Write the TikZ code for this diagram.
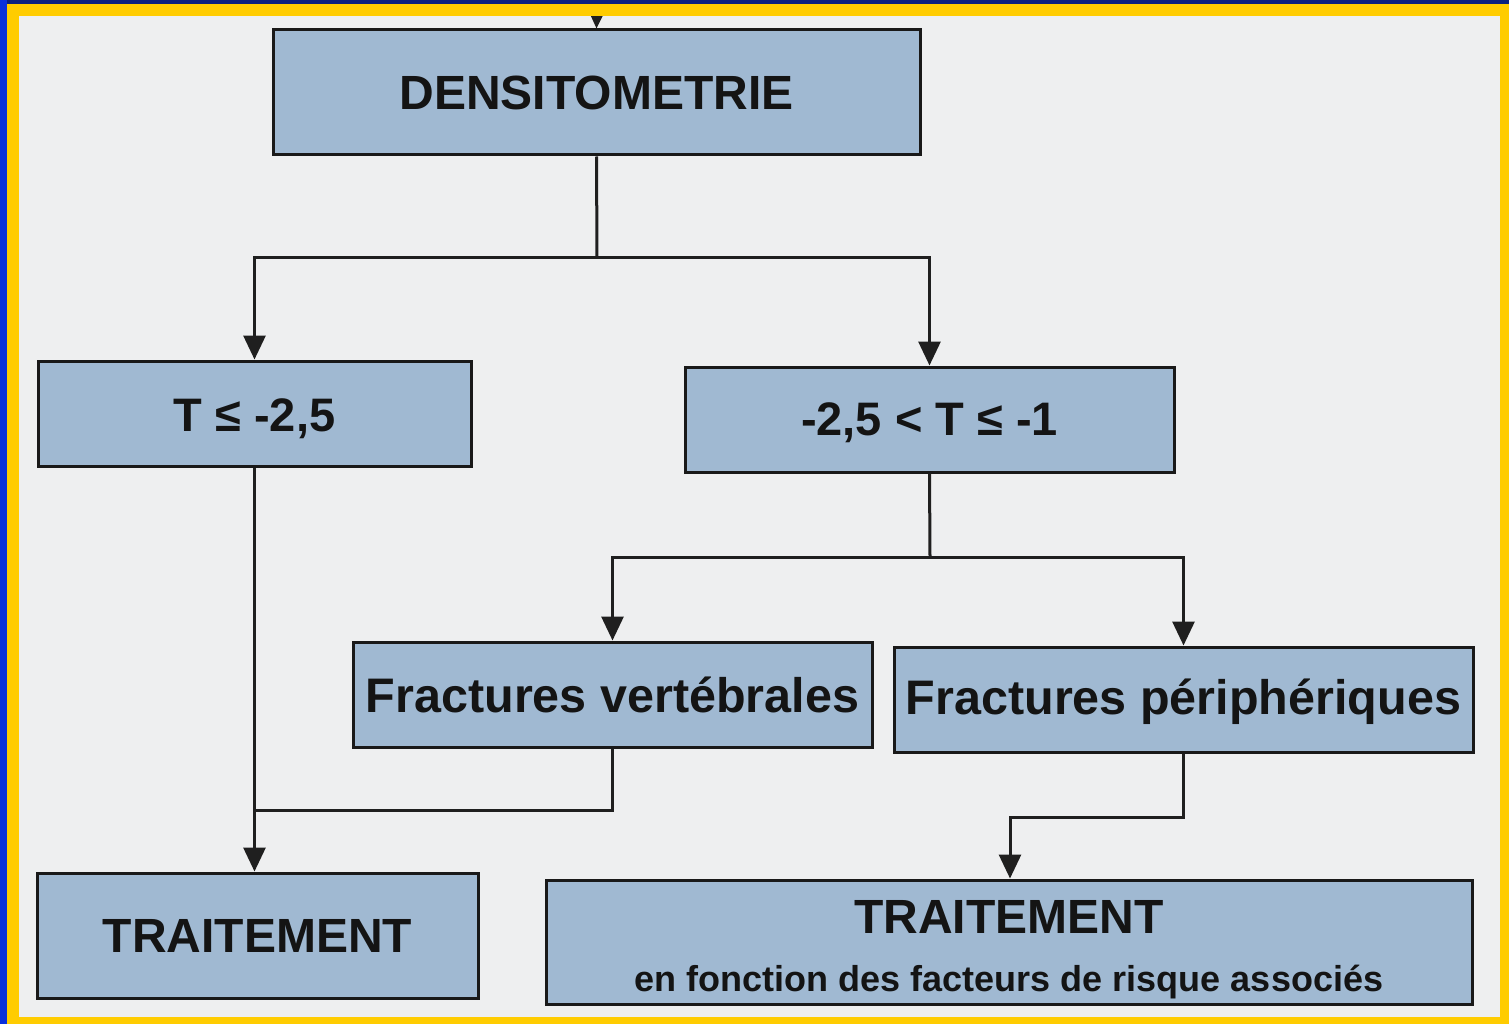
\documentclass[tikz,border=0pt]{standalone}
\usepackage{fontspec}
\setmainfont{Liberation Sans}
\usetikzlibrary{arrows.meta}
\definecolor{boxfill}{RGB}{160,185,210}
\definecolor{bgpaper}{RGB}{238,239,240}
\definecolor{frameyellow}{RGB}{255,204,0}
\definecolor{framenavy}{RGB}{10,32,128}
\definecolor{frameblue}{RGB}{10,48,220}
\tikzset{
  box/.style={draw=black!90, line width=3pt, fill=boxfill, inner sep=0pt, font=\bfseries, text=black!92},
  conn/.style={draw=black!88, line width=3pt},
  arr/.style={conn, -{Triangle[width=22pt,length=24pt]}}
}
\begin{document}
\begin{tikzpicture}[x=1pt,y=-1pt]
\useasboundingbox (0,0) rectangle (1509,1024);
\fill[frameyellow] (0,0) rectangle (1509,1024);
\fill[bgpaper] (19,16) rectangle (1500,1017);

\node[box, minimum width=647pt, minimum height=125pt, font=\bfseries\fontsize{48}{52}\selectfont] (dens) at (596.5,92.5) {DENSITOMETRIE};
\node[box, minimum width=433pt, minimum height=105pt, font=\bfseries\fontsize{47}{50}\selectfont] (t1) at (254.5,413.5) {\rule{0pt}{43pt}T ≤ -2,5};
\node[box, minimum width=489pt, minimum height=105pt, font=\bfseries\fontsize{47}{50}\selectfont] (t2) at (929.5,419.5) {\rule{0pt}{39pt}-2,5 < T ≤ -1};
\node[box, minimum width=519pt, minimum height=105pt, font=\bfseries\fontsize{48.5}{52}\selectfont] (fv) at (612.5,694.5) {Fractures vertébrales};
\node[box, minimum width=579pt, minimum height=105pt, font=\bfseries\fontsize{48.5}{52}\selectfont] (fp) at (1183.5,699.5) {\rule{0pt}{40pt}Fractures périphériques};
\node[box, minimum width=441pt, minimum height=125pt, font=\bfseries\fontsize{48}{52}\selectfont] (tr1) at (257.5,935.5) {TRAITEMENT};
\node[box, minimum width=926pt, minimum height=124pt, align=center, font=\bfseries\fontsize{36}{58}\selectfont] (tr2) at (1009,942) {\fontsize{48}{58}\selectfont\rule{0pt}{48pt}TRAITEMENT\\en fonction des facteurs de risque associés};

\coordinate (top) at (597,0);
\coordinate (j1) at (597,258);
\coordinate (j2) at (930,557);
\coordinate (m1) at (255,810);
\coordinate (m2) at (1010,817);

\draw[arr] (top) -- (dens.north);
\draw[conn] (dens.south) -- (j1);
\draw[arr] (j1) -| (t1.north);
\draw[arr] (j1) -| (t2.north);
\draw[conn] (t2.south) -- (j2);
\draw[arr] (j2) -| (fv.north);
\draw[arr] (j2) -| (fp.north);
\draw[arr] (t1.south) -- (t1.south |- tr1.north);
\draw[conn] (fv.south) |- (m1);
\draw[arr] (fp.south) |- (m2) -- (m2 |- tr2.north);

\fill[frameyellow] (0,0) rectangle (1509,16);
\fill[framenavy] (0,0) rectangle (1509,4);
\fill[frameblue] (0,0) rectangle (7,1024);
\end{tikzpicture}
\end{document}
